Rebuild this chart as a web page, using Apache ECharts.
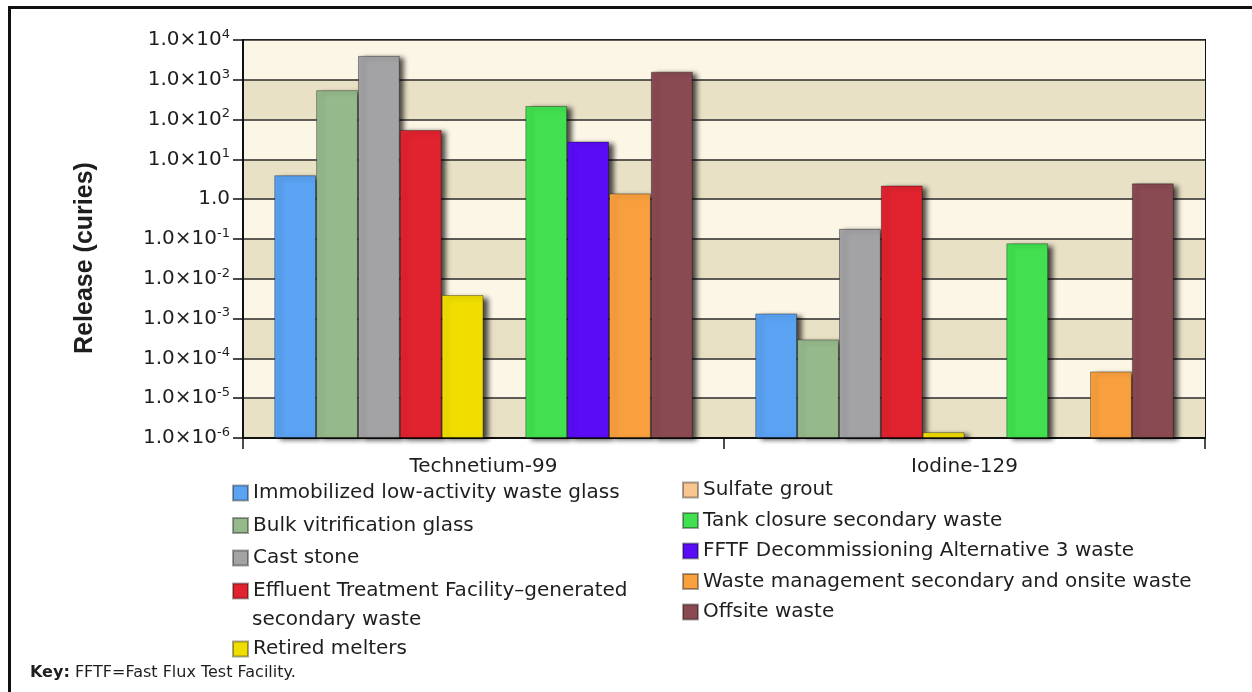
<!DOCTYPE html>
<html>
<head>
<meta charset="utf-8">
<script src="https://cdn.jsdelivr.net/npm/echarts@6/dist/echarts.min.js"></script>
<style>
  html, body { margin: 0; padding: 0; background: #ffffff; }
  #chart { width: 1252px; height: 692px; }
</style>
</head>
<body>
<div id="chart"></div>
<script>
// ---- Data (release in curies) ----
const categories = ['Technetium-99', 'Iodine-129'];

const seriesNames = [
  'Immobilized low-activity waste glass',
  'Bulk vitrification glass',
  'Cast stone',
  'Effluent Treatment Facility–generated secondary waste',
  'Retired melters',
  'Sulfate grout',
  'Tank closure secondary waste',
  'FFTF Decommissioning Alternative 3 waste',
  'Waste management secondary and onsite waste',
  'Offsite waste'
];

const immobilizedGlass   = [4.0, 1.35e-3];
const bulkVitGlass       = [550, 3.0e-4];
const castStone          = [4000, 0.18];
const effluentTreatment  = [55, 2.2];
const retiredMelters     = [3.9e-3, 1.4e-6];
const sulfateGrout       = [null, null];
const tankClosure        = [220, 0.078];
const fftfDecommission   = [28, null];
const wasteManagement    = [1.4, 4.7e-5];
const offsiteWaste       = [1600, 2.5];

const seriesValues = [
  immobilizedGlass, bulkVitGlass, castStone, effluentTreatment, retiredMelters,
  sulfateGrout, tankClosure, fftfDecommission, wasteManagement, offsiteWaste
];

const colors = [
  '#5aa2f2', '#96b98c', '#a3a2a4', '#e0232f', '#f0de00',
  '#f8c68e', '#42e050', '#5a0cf6', '#f9a03e', '#8a4a52'
];

// y-axis tick exponents (powers of ten), bottom to top
const yExponents = [-6, -5, -4, -3, -2, -1, 0, 1, 2, 3, 4];
const LOG_MIN = yExponents[0];
const LOG_MAX = yExponents[yExponents.length - 1];

// ---- Chart ----
const chart = echarts.init(document.getElementById('chart'), null, { renderer: 'canvas' });

const FONT = 'DejaVu Sans';
const TEXT_COLOR = '#1e1e1e';

const series = seriesNames.map((name, i) => ({
  name: name,
  type: 'bar',
  barGap: '0%',
  barCategoryGap: '13%',
  itemStyle: {
    color: colors[i],
    borderColor: 'rgba(0,0,0,0.35)',
    borderWidth: 1,
    shadowColor: 'rgba(0,0,0,0.7)',
    shadowBlur: 5,
    shadowOffsetX: 5,
    shadowOffsetY: 2
  },
  data: seriesValues[i].map(v => (v == null ? null : Math.log10(v) - LOG_MIN))
}));

const legendText = { fontFamily: FONT, fontSize: 20, color: TEXT_COLOR, lineHeight: 24 };
const legendCommon = {
  orient: 'vertical',
  padding: 0,
  itemWidth: 15,
  itemHeight: 15,
  icon: 'rect',
  selectedMode: false,
  textStyle: legendText
};

const option = {
  backgroundColor: '#ffffff',
  animation: false,
  color: colors,
  grid: {
    left: 243, right: 47, top: 40, bottom: 254,
    show: true,
    borderColor: '#111111',
    borderWidth: 2,
    backgroundColor: 'transparent'
  },
  xAxis: {
    type: 'category',
    data: categories,
    axisLine: { lineStyle: { color: '#111111', width: 2 } },
    axisTick: { show: true, length: 11, interval: 0, lineStyle: { color: '#111111', width: 1.5 } },
    axisLabel: { fontFamily: FONT, fontSize: 20, color: TEXT_COLOR, margin: 19 }
  },
  yAxis: {
    type: 'value',
    min: 0,
    max: LOG_MAX - LOG_MIN,
    interval: 1,
    axisLine: { show: true, lineStyle: { color: '#111111', width: 2 } },
    axisTick: { show: true, length: 10, lineStyle: { color: '#111111', width: 1.5 } },
    splitLine: { show: true, lineStyle: { color: '#2a2a2a', width: 1.5 } },
    splitArea: { show: true, areaStyle: { color: ['#e9e1c6', '#fcf6e6'] } },
    axisLabel: {
      margin: 13,
      formatter: function (v) {
        const exp = yExponents[Math.round(v)];
        if (exp === 0) return '{b|1.0}';
        return '{b|1.0×10}{s|' + exp + '}';
      },
      rich: {
        b: { fontFamily: FONT, fontSize: 20, color: TEXT_COLOR, lineHeight: 24 },
        s: { fontFamily: FONT, fontSize: 13, color: TEXT_COLOR, verticalAlign: 'top', lineHeight: 14, padding: [0, 0, 8, 0] }
      }
    }
  },
  legend: [
    Object.assign({}, legendCommon, {
      left: 232, top: 481, itemGap: 8.5,
      data: seriesNames.slice(0, 3)
    }),
    Object.assign({}, legendCommon, {
      left: 232, top: 579,
      data: [seriesNames[3]],
      formatter: function () { return 'Effluent Treatment Facility–generated'; }
    }),
    Object.assign({}, legendCommon, {
      left: 232, top: 637,
      data: [seriesNames[4]]
    }),
    Object.assign({}, legendCommon, {
      left: 682, top: 478, itemGap: 6.5,
      data: seriesNames.slice(5)
    })
  ],
  graphic: [
    {
      type: 'rect',
      shape: { x: 9.5, y: 7.5, width: 1400, height: 800 },
      style: { fill: 'none', stroke: '#111111', lineWidth: 3 },
      silent: true
    },
    {
      type: 'text',
      x: 252, y: 620,
      style: {
        text: 'secondary waste',
        fontFamily: FONT, fontSize: 20, fill: TEXT_COLOR,
        verticalAlign: 'middle'
      }
    },
    {
      type: 'text',
      x: 85, y: 258,
      rotation: Math.PI / 2,
      style: {
        text: 'Release (curies)',
        fontFamily: 'Liberation Sans', fontWeight: 'bold', fontSize: 25, fill: TEXT_COLOR,
        align: 'center', verticalAlign: 'middle'
      }
    },
    {
      type: 'text',
      x: 30, y: 673,
      style: {
        text: '{k|Key:} FFTF=Fast Flux Test Facility.',
        fontFamily: FONT, fontSize: 16, fill: TEXT_COLOR,
        verticalAlign: 'middle',
        rich: { k: { fontFamily: FONT, fontSize: 16, fontWeight: 'bold', fill: TEXT_COLOR } }
      }
    }
  ],
  series: series
};

chart.setOption(option);
</script>
</body>
</html>
